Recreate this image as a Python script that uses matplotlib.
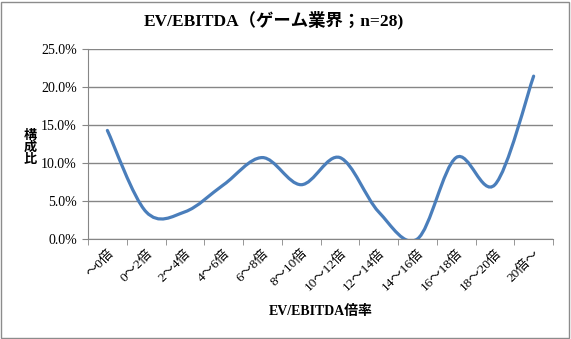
import matplotlib.pyplot as plt
from matplotlib.path import Path
from matplotlib.patches import PathPatch, Rectangle
import numpy as np

plt.rcParams['font.family'] = ['Liberation Serif', 'Noto Sans CJK JP']

categories = ['～0倍', '0～2倍', '2～4倍', '4～6倍', '6～8倍', '8～10倍',
              '10～12倍', '12～14倍', '14～16倍', '16～18倍', '18～20倍', '20倍～']
counts = [4, 1, 1, 2, 3, 2, 3, 1, 0, 3, 2, 6]
n_total = 28
shares = [c / n_total for c in counts]

fig = plt.figure(figsize=(5.71, 3.39), dpi=100)
fig.add_artist(Rectangle((0.002, 0.003), 0.994, 0.992, transform=fig.transFigure,
                         fill=False, edgecolor='#8c8c8c', linewidth=1.0))
ax = fig.add_axes([88 / 571, 1 - 239 / 339, (553 - 88) / 571, (239 - 49) / 339])

# smoothed line like Excel: cubic bezier segments through the points
xs = np.arange(len(shares))
pts = list(zip(xs, shares))
verts = [pts[0]]
codes = [Path.MOVETO]
for i in range(len(pts) - 1):
    p0 = pts[max(i - 1, 0)]
    p1 = pts[i]
    p2 = pts[i + 1]
    p3 = pts[min(i + 2, len(pts) - 1)]
    c1 = (p1[0] + (p2[0] - p0[0]) / 6, p1[1] + (p2[1] - p0[1]) / 6)
    c2 = (p2[0] - (p3[0] - p1[0]) / 6, p2[1] - (p3[1] - p1[1]) / 6)
    verts += [c1, c2, p2]
    codes += [Path.CURVE4] * 3
ax.add_patch(PathPatch(Path(verts, codes), fill=False, edgecolor='#4a7ebb',
                       linewidth=2.3, capstyle='round', zorder=3))

ax.set_xlim(-0.5, len(categories) - 0.5)
ax.set_ylim(0, 0.25)
ax.set_yticks(np.arange(0, 0.26, 0.05))
ax.set_yticklabels([f'{v * 100:.1f}%' for v in np.arange(0, 0.26, 0.05)], fontsize=10)
ax.yaxis.grid(True, color='#868686', linewidth=1.0)
ax.set_axisbelow(True)

ax.set_xticks(xs)
ax.set_xticklabels(categories, rotation=45, ha='right', va='top',
                   rotation_mode='anchor', fontsize=9.5)
ax.set_xticks(np.arange(-0.5, len(categories), 1.0), minor=True)
ax.tick_params(axis='x', which='major', length=0, pad=6)
ax.tick_params(axis='x', which='minor', length=4, color='#868686', direction='out')
ax.tick_params(axis='y', length=4, color='#868686', direction='out', pad=4)

for s in ['top', 'right']:
    ax.spines[s].set_visible(False)
for s in ['left', 'bottom']:
    ax.spines[s].set_color('#868686')

fig.text(0.48, 1 - 20 / 339, 'EV/EBITDA（ゲーム業界；n=28)', ha='center', va='center',
         fontsize=12.5, fontweight='bold')
fig.text(30 / 571, 1 - 148 / 339, '構\n成\n比', ha='center', va='center',
         fontsize=9.5, fontweight='bold', linespacing=0.95)
fig.text(321 / 571, 1 - 311 / 339, 'EV/EBITDA倍率', ha='center', va='center',
         fontsize=10, fontweight='bold')

fig.savefig('out.png', dpi=100)
